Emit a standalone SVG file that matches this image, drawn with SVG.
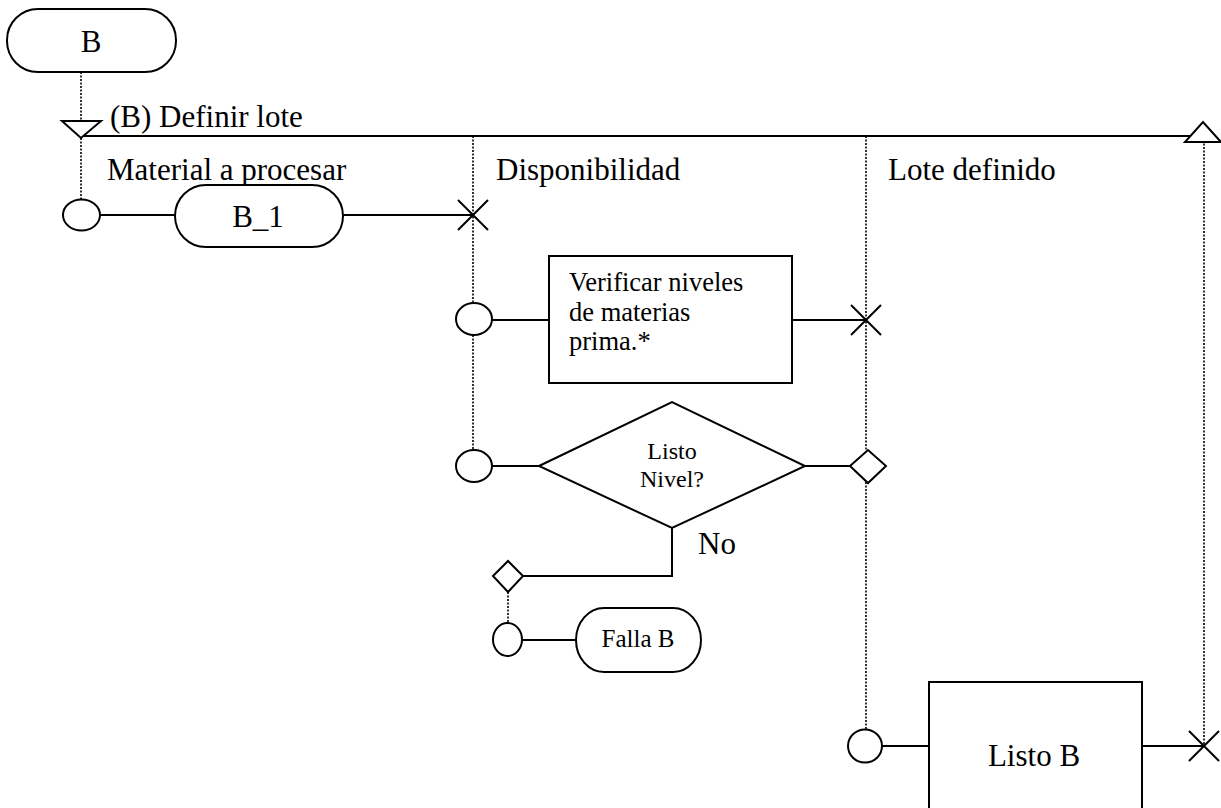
<svg xmlns="http://www.w3.org/2000/svg" width="1221" height="808" viewBox="0 0 1221 808">
<style>
.s{fill:#fff;stroke:#000;stroke-width:2}
.l{fill:none;stroke:#000;stroke-width:2}
.d{fill:none;stroke:#000;stroke-width:1.6;stroke-dasharray:2 1.5}
.t{font-family:"Liberation Serif","Times New Roman",serif;fill:#000}
.big{font-size:31px}
</style>
<rect width="1221" height="808" fill="#fff"/>
<g id="connectors">
<line class="d" x1="81" y1="72" x2="81" y2="122"/>
<line class="d" x1="81" y1="138" x2="81" y2="200"/>
<line class="d" x1="473" y1="136" x2="473" y2="304"/>
<line class="d" x1="473" y1="335" x2="473" y2="451"/>
<line class="d" x1="866" y1="136" x2="866" y2="451"/>
<line class="d" x1="866" y1="482" x2="866" y2="730"/>
<line class="d" x1="1204" y1="140" x2="1204" y2="746"/>
<line class="d" x1="508" y1="592" x2="508" y2="623"/>
<line class="l" x1="84" y1="136" x2="1205" y2="136"/>
<line class="l" x1="100" y1="215" x2="175" y2="215"/>
<line class="l" x1="343" y1="215" x2="473" y2="215"/>
<line class="l" x1="492" y1="320" x2="549" y2="320"/>
<line class="l" x1="792" y1="320" x2="866" y2="320"/>
<line class="l" x1="492" y1="466" x2="539" y2="466"/>
<line class="l" x1="805" y1="466" x2="850" y2="466"/>
<polyline class="l" points="672,528 672,576 523,576"/>
<line class="l" x1="522" y1="640" x2="576" y2="640"/>
<line class="l" x1="882" y1="746" x2="929" y2="746"/>
<line class="l" x1="1142" y1="746" x2="1204" y2="746"/>
</g>
<g id="start-B">
<rect class="s" x="7" y="9" width="169" height="63" rx="31" ry="31"/>
<text class="t big" x="91" y="52" text-anchor="middle">B</text>
</g>
<g id="entry-triangle">
<polygon class="s" points="62,121 101,121 81,138"/>
<text class="t big" x="110" y="127">(B) Definir lote</text>
</g>
<g id="exit-triangle">
<polygon class="s" points="1185,142 1221,142 1203,122"/>
</g>
<g id="lane-labels">
<text class="t big" x="107" y="180">Material a procesar</text>
<text class="t big" x="496" y="180">Disponibilidad</text>
<text class="t big" x="888" y="180">Lote definido</text>
</g>
<g id="B_1">
<ellipse class="s" cx="81.5" cy="215" rx="18.5" ry="15.5"/>
<rect class="s" x="175" y="185" width="168" height="62" rx="31" ry="31"/>
<text class="t big" x="258" y="227" text-anchor="middle">B_1</text>
<path class="l" d="M458 200 L488 230 M458 230 L488 200"/>
</g>
<g id="verificar">
<ellipse class="s" cx="474" cy="319" rx="18" ry="16"/>
<rect class="s" x="549" y="256" width="243" height="127"/>
<text class="t" x="569" y="291" font-size="26.5">Verificar niveles</text>
<text class="t" x="569" y="321" font-size="26.5">de materias</text>
<text class="t" x="569" y="350" font-size="26.5">prima.*</text>
<path class="l" d="M851 305 L881 335 M851 335 L881 305"/>
</g>
<g id="decision">
<ellipse class="s" cx="474" cy="466" rx="18" ry="16"/>
<polygon class="s" points="539,466 672,402 805,466 672,528"/>
<text class="t" x="672" y="459" font-size="24" text-anchor="middle">Listo</text>
<text class="t" x="672" y="487" font-size="24" text-anchor="middle">Nivel?</text>
<polygon class="s" points="850,466 868,450 886,466 868,483"/>
<text class="t big" x="698" y="554">No</text>
</g>
<g id="falla-B">
<polygon class="s" points="493,576 508,561 523,576 508,592"/>
<ellipse class="s" cx="507.5" cy="639.5" rx="14.5" ry="16.5"/>
<rect class="s" x="576" y="608" width="125" height="64" rx="28" ry="32"/>
<text class="t" x="638" y="647" font-size="25" text-anchor="middle">Falla B</text>
</g>
<g id="listo-B">
<ellipse class="s" cx="865" cy="746" rx="17" ry="16.5"/>
<rect class="s" x="929" y="682" width="213" height="140"/>
<text class="t big" x="1034" y="766" text-anchor="middle">Listo B</text>
<path class="l" d="M1189 731 L1219 761 M1189 761 L1219 731"/>
</g>
</svg>
